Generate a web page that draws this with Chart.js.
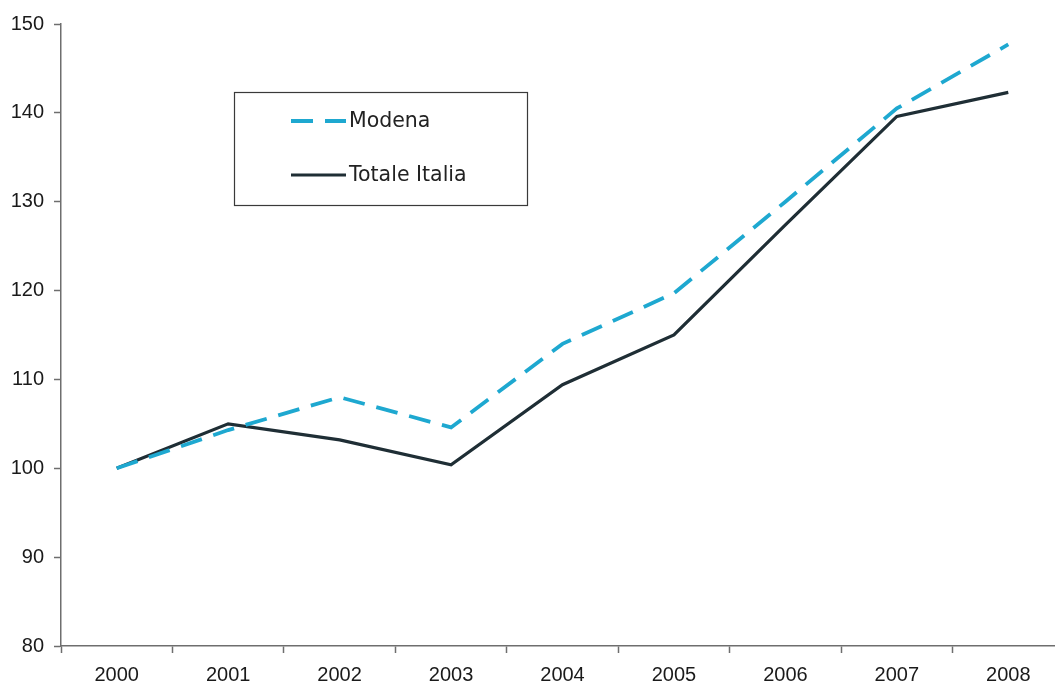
<!DOCTYPE html>
<html>
<head>
<meta charset="utf-8">
<script src="https://cdn.jsdelivr.net/npm/chart.js@4.4.0/dist/chart.umd.min.js"></script>
<style>
    html, body { margin: 0; padding: 0; background: #fff; overflow: hidden; }
    #wrap { position: relative; width: 1070px; height: 686px; }
</style>
</head>
<body>
<div id="wrap"><canvas id="indexChart" width="1070" height="686"></canvas></div>
<script>
const years = ['2000', '2001', '2002', '2003', '2004', '2005', '2006', '2007', '2008'];
const modena = [100, 104.3, 108.0, 104.6, 114.0, 119.7, 130.0, 140.5, 147.7];
const italia = [100, 105.0, 103.2, 100.4, 109.4, 115.0, 127.4, 139.6, 142.3];
const yTicks = [80, 90, 100, 110, 120, 130, 140, 150];

const axisColor = '#6e6e6e';

// boxed legend in the upper left of the plot
const boxLegend = {
    id: 'boxLegend',
    afterDraw(chart) {
        const ctx = chart.ctx;
        const x = 234, y = 92, w = 293, h = 113;
        ctx.save();
        ctx.strokeStyle = '#3a3a3a';
        ctx.lineWidth = 1.2;
        ctx.strokeRect(x + 0.5, y + 0.5, w, h);
        ctx.font = '20.5px "DejaVu Sans"';
        ctx.textBaseline = 'middle';
        const rows = [121, 175];
        chart.data.datasets.forEach((ds, i) => {
            const ry = rows[i];
            ctx.strokeStyle = ds.borderColor;
            ctx.lineWidth = ds.borderWidth;
            ctx.setLineDash(ds.borderDash || []);
            ctx.beginPath();
            ctx.moveTo(291, ry);
            ctx.lineTo(346, ry);
            ctx.stroke();
            ctx.setLineDash([]);
            ctx.fillStyle = '#222';
            ctx.fillText(ds.label, 349, ry + 1);
        });
        ctx.restore();
    }
};

const ctx = document.getElementById('indexChart').getContext('2d');

const indexChart = new Chart(ctx, {
    type: 'line',
    data: {
        labels: years,
        datasets: [{
            label: 'Modena',
            data: modena,
            borderColor: '#1ea8d0',
            borderWidth: 3.8,
            borderDash: [22, 12],
            pointRadius: 0,
            tension: 0,
            fill: false
        }, {
            label: 'Totale Italia',
            data: italia,
            borderColor: '#1f2e35',
            borderWidth: 3.2,
            pointRadius: 0,
            tension: 0,
            fill: false
        }]
    },
    options: {
        responsive: false,
        animation: false,
        layout: {
            padding: {top: 24, right: 6, bottom: 0, left: 0}
        },
        scales: {
            x: {
                offset: true,
                grid: {
                    offset: true,
                    drawOnChartArea: false,
                    tickLength: 7,
                    tickColor: axisColor,
                    tickWidth: 1.5
                },
                border: {color: axisColor, width: 1.5},
                ticks: {
                    color: '#1a1a1a',
                    font: {family: '"Liberation Sans"', size: 20},
                    padding: 10,
                    maxRotation: 0
                },
                afterFit: (scale) => { scale.height = 40; }
            },
            y: {
                min: 80,
                max: 150,
                afterBuildTicks: (scale) => { scale.ticks = yTicks.map(v => ({value: v})); },
                grid: {
                    drawOnChartArea: false,
                    tickLength: 7,
                    tickColor: axisColor,
                    tickWidth: 1.5
                },
                border: {color: axisColor, width: 1.5},
                ticks: {
                    color: '#1a1a1a',
                    font: {family: '"Liberation Sans"', size: 20},
                    padding: 10
                },
                afterFit: (scale) => { scale.width = 61; }
            }
        },
        plugins: {
            legend: {display: false},
            tooltip: {enabled: false}
        }
    },
    plugins: [boxLegend]
});
</script>
</body>
</html>
